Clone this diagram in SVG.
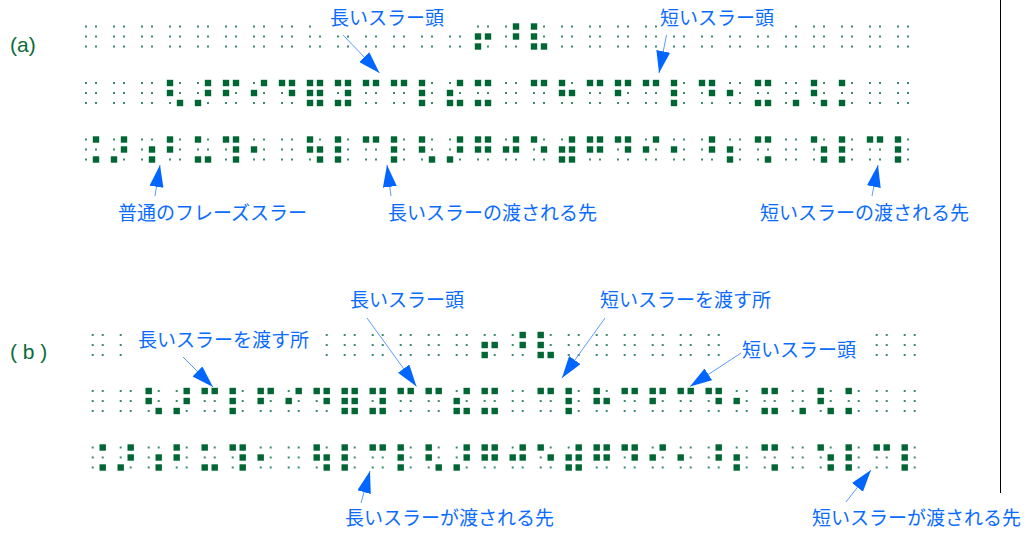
<svg xmlns="http://www.w3.org/2000/svg" width="1027" height="533" viewBox="0 0 1027 533">
<style>
.lbl{font-family:"Noto Sans CJK JP","Noto Sans CJK SC",sans-serif;font-size:19px;fill:#0a6cff}
.tag{font-family:"Liberation Sans",Arial,sans-serif;font-size:21px;fill:#0b6b3a}
.e{fill:#3a8d66}
.f{fill:#006633}
.ar{stroke:#5b9bff;stroke-width:1;fill:none;marker-end:url(#ah)}
.bg{fill:#ffffff}
</style>
<defs>
<marker id="ah" viewBox="0 0 22 14" refX="22" refY="7" markerWidth="22" markerHeight="14" markerUnits="userSpaceOnUse" orient="auto"><path d="M0,0 L22,7 L0,14 z" fill="#0066ff"/></marker>
<g id="c"><rect class="e" x="-1" y="-1" width="2" height="2"/><rect class="e" x="9" y="-1" width="2" height="2"/><rect class="e" x="-1" y="9" width="2" height="2"/><rect class="e" x="9" y="9" width="2" height="2"/><rect class="e" x="-1" y="19" width="2" height="2"/><rect class="e" x="9" y="19" width="2" height="2"/></g>
<g id="row"><use href="#c"/><use href="#c" x="28"/><use href="#c" x="56"/><use href="#c" x="84"/><use href="#c" x="112"/><use href="#c" x="140"/><use href="#c" x="168"/><use href="#c" x="196"/><use href="#c" x="224"/><use href="#c" x="252"/><use href="#c" x="280"/><use href="#c" x="308"/><use href="#c" x="336"/><use href="#c" x="364"/><use href="#c" x="392"/><use href="#c" x="420"/><use href="#c" x="448"/><use href="#c" x="476"/><use href="#c" x="504"/><use href="#c" x="532"/><use href="#c" x="560"/><use href="#c" x="588"/><use href="#c" x="616"/><use href="#c" x="644"/><use href="#c" x="672"/><use href="#c" x="700"/><use href="#c" x="728"/><use href="#c" x="756"/><use href="#c" x="784"/><use href="#c" x="812"/></g>
<rect id="d1" class="f" x="-3.2" y="-3.2" width="6.4" height="6.4"/>
<rect id="d2" class="f" x="-3.2" y="6.8" width="6.4" height="6.4"/>
<rect id="d3" class="f" x="-3.2" y="16.8" width="6.4" height="6.4"/>
<rect id="d4" class="f" x="6.8" y="-3.2" width="6.4" height="6.4"/>
<rect id="d5" class="f" x="6.8" y="6.8" width="6.4" height="6.4"/>
<rect id="d6" class="f" x="6.8" y="16.8" width="6.4" height="6.4"/>
<g id="R1">
<use href="#d2" x="392"/><use href="#d3" x="392"/><use href="#d5" x="392"/>
<use href="#d4" x="420"/><use href="#d5" x="420"/>
<use href="#d1" x="448"/><use href="#d2" x="448"/><use href="#d3" x="448"/><use href="#d6" x="448"/>
</g>
<g id="R3">
<use href="#d4"/><use href="#d6"/>
<use href="#d3" x="28"/><use href="#d4" x="28"/><use href="#d5" x="28"/>
<use href="#d5" x="56"/><use href="#d6" x="56"/>
<use href="#d1" x="84"/><use href="#d2" x="84"/>
<use href="#d1" x="112"/><use href="#d3" x="112"/><use href="#d6" x="112"/>
<use href="#d1" x="140"/><use href="#d4" x="140"/><use href="#d5" x="140"/><use href="#d6" x="140"/>
<use href="#d2" x="168"/>
<use href="#d1" x="224"/><use href="#d2" x="224"/><use href="#d5" x="224"/><use href="#d6" x="224"/>
<use href="#d1" x="252"/><use href="#d2" x="252"/><use href="#d3" x="252"/>
<use href="#d1" x="280"/><use href="#d4" x="280"/>
<use href="#d1" x="308"/><use href="#d2" x="308"/><use href="#d3" x="308"/>
<use href="#d1" x="336"/><use href="#d2" x="336"/><use href="#d6" x="336"/>
<use href="#d3" x="364"/><use href="#d4" x="364"/><use href="#d5" x="364"/>
<use href="#d1" x="392"/><use href="#d2" x="392"/><use href="#d4" x="392"/><use href="#d5" x="392"/>
<use href="#d2" x="420"/><use href="#d4" x="420"/><use href="#d5" x="420"/>
<use href="#d1" x="448"/><use href="#d5" x="448"/>
<use href="#d2" x="476"/><use href="#d3" x="476"/><use href="#d4" x="476"/><use href="#d5" x="476"/><use href="#d6" x="476"/>
<use href="#d1" x="504"/><use href="#d2" x="504"/><use href="#d4" x="504"/><use href="#d5" x="504"/>
<use href="#d1" x="532"/><use href="#d4" x="532"/><use href="#d5" x="532"/>
<use href="#d2" x="560"/><use href="#d4" x="560"/>
<use href="#d2" x="588"/>
<use href="#d4" x="616"/><use href="#d5" x="616"/>
<use href="#d2" x="644"/><use href="#d3" x="644"/>
<use href="#d1" x="672"/><use href="#d4" x="672"/><use href="#d6" x="672"/>
<use href="#d1" x="728"/><use href="#d5" x="728"/><use href="#d6" x="728"/>
<use href="#d1" x="756"/><use href="#d2" x="756"/><use href="#d3" x="756"/>
<use href="#d1" x="784"/><use href="#d4" x="784"/>
<use href="#d1" x="812"/><use href="#d2" x="812"/><use href="#d3" x="812"/>
</g>
</defs>

<g id="braille-a1"><use href="#row" x="86" y="26.5"/><use href="#R1" x="86" y="26.5"/></g>
<g id="braille-a2"><use href="#row" x="86" y="83"/>
<g transform="translate(86,83)">
<use href="#d1" x="84"/><use href="#d2" x="84"/><use href="#d6" x="84"/>
<use href="#d3" x="112"/><use href="#d4" x="112"/><use href="#d5" x="112"/>
<use href="#d1" x="140"/><use href="#d2" x="140"/><use href="#d4" x="140"/>
<use href="#d2" x="168"/><use href="#d4" x="168"/>
<use href="#d1" x="196"/><use href="#d4" x="196"/><use href="#d5" x="196"/>
<use href="#d1" x="224"/><use href="#d2" x="224"/><use href="#d3" x="224"/><use href="#d4" x="224"/><use href="#d5" x="224"/><use href="#d6" x="224"/>
<use href="#d1" x="252"/><use href="#d3" x="252"/><use href="#d4" x="252"/><use href="#d5" x="252"/><use href="#d6" x="252"/>
<use href="#d1" x="280"/><use href="#d4" x="280"/>
<use href="#d1" x="308"/><use href="#d4" x="308"/>
<use href="#d1" x="336"/><use href="#d2" x="336"/><use href="#d3" x="336"/>
<use href="#d2" x="364"/><use href="#d3" x="364"/><use href="#d4" x="364"/><use href="#d6" x="364"/>
<use href="#d1" x="392"/><use href="#d3" x="392"/><use href="#d4" x="392"/><use href="#d6" x="392"/>
<use href="#d1" x="448"/><use href="#d4" x="448"/>
<use href="#d1" x="476"/><use href="#d2" x="476"/><use href="#d5" x="476"/>
<use href="#d1" x="504"/><use href="#d4" x="504"/>
<use href="#d1" x="532"/><use href="#d2" x="532"/><use href="#d4" x="532"/>
<use href="#d1" x="560"/><use href="#d4" x="560"/>
<use href="#d1" x="588"/><use href="#d2" x="588"/><use href="#d3" x="588"/>
<use href="#d1" x="616"/><use href="#d4" x="616"/><use href="#d5" x="616"/>
<use href="#d2" x="644"/>
<use href="#d1" x="672"/><use href="#d3" x="672"/><use href="#d4" x="672"/><use href="#d6" x="672"/>
<use href="#d6" x="700"/>
<use href="#d1" x="728"/><use href="#d2" x="728"/><use href="#d6" x="728"/>
<use href="#d1" x="756"/><use href="#d3" x="756"/>
</g></g>
<g id="braille-a3"><use href="#row" x="86" y="139.5"/><use href="#R3" x="86" y="139.5"/></g>

<g id="braille-b1"><use href="#row" x="92.7" y="335"/><use href="#R1" x="92.7" y="335"/></g>
<g id="braille-b2"><use href="#row" x="92.7" y="391"/>
<g transform="translate(92.7,391)">
<use href="#d1" x="56"/><use href="#d2" x="56"/><use href="#d6" x="56"/>
<use href="#d3" x="84"/><use href="#d4" x="84"/><use href="#d5" x="84"/>
<use href="#d1" x="112"/><use href="#d4" x="112"/>
<use href="#d1" x="140"/><use href="#d2" x="140"/><use href="#d3" x="140"/>
<use href="#d1" x="168"/><use href="#d2" x="168"/><use href="#d4" x="168"/>
<use href="#d2" x="196"/><use href="#d4" x="196"/>
<use href="#d1" x="224"/><use href="#d4" x="224"/><use href="#d5" x="224"/>
<use href="#d1" x="252"/><use href="#d2" x="252"/><use href="#d3" x="252"/><use href="#d4" x="252"/><use href="#d5" x="252"/><use href="#d6" x="252"/>
<use href="#d1" x="280"/><use href="#d3" x="280"/><use href="#d4" x="280"/><use href="#d5" x="280"/><use href="#d6" x="280"/>
<use href="#d1" x="308"/><use href="#d4" x="308"/>
<use href="#d1" x="336"/><use href="#d4" x="336"/>
<use href="#d2" x="364"/><use href="#d3" x="364"/><use href="#d4" x="364"/><use href="#d6" x="364"/>
<use href="#d1" x="392"/><use href="#d3" x="392"/><use href="#d4" x="392"/><use href="#d6" x="392"/>
<use href="#d1" x="448"/><use href="#d4" x="448"/>
<use href="#d1" x="476"/><use href="#d2" x="476"/><use href="#d3" x="476"/>
<use href="#d1" x="504"/><use href="#d2" x="504"/><use href="#d5" x="504"/>
<use href="#d1" x="532"/><use href="#d4" x="532"/>
<use href="#d1" x="560"/><use href="#d2" x="560"/><use href="#d4" x="560"/>
<use href="#d1" x="588"/><use href="#d4" x="588"/>
<use href="#d1" x="616"/><use href="#d4" x="616"/><use href="#d5" x="616"/>
<use href="#d2" x="644"/>
<use href="#d1" x="672"/><use href="#d3" x="672"/><use href="#d4" x="672"/><use href="#d6" x="672"/>
<use href="#d6" x="700"/>
<use href="#d1" x="728"/><use href="#d2" x="728"/><use href="#d6" x="728"/>
<use href="#d1" x="756"/><use href="#d3" x="756"/>
</g></g>
<g id="braille-b3"><use href="#row" x="92.7" y="447.5"/><use href="#R3" x="92.7" y="447.5"/></g>

<g id="label-backgrounds">
<rect class="bg" x="315" y="6" width="153" height="25"/>
<rect class="bg" x="659" y="6" width="131" height="25"/>
<rect class="bg" x="125" y="328" width="197" height="32"/>
<rect class="bg" x="725" y="328" width="143" height="32"/>
</g>

<line id="frame-right" x1="1000.5" y1="0" x2="1000.5" y2="493" stroke="#000" stroke-width="1"/>

<g id="connectors">
<line class="ar" x1="343" y1="35" x2="379.5" y2="73"/>
<line class="ar" x1="666.5" y1="35" x2="659" y2="73"/>
<line class="ar" x1="155" y1="196" x2="160" y2="165"/>
<line class="ar" x1="391" y1="196" x2="387" y2="165"/>
<line class="ar" x1="872" y1="196" x2="878" y2="165"/>
<line class="ar" x1="183" y1="357" x2="213" y2="387"/>
<line class="ar" x1="367" y1="318" x2="416.5" y2="386.5"/>
<line class="ar" x1="605" y1="318" x2="562" y2="378"/>
<line class="ar" x1="741" y1="353" x2="690" y2="386.5"/>
<line class="ar" x1="361" y1="503" x2="370" y2="471"/>
<line class="ar" x1="846" y1="502" x2="871" y2="470"/>
</g>

<g id="tag-a"><text class="tag" x="10" y="52">(a)</text></g>
<g id="tag-b"><text class="tag" x="10" y="359">( b )</text></g>

<g id="label-a-long-head"><text class="lbl" x="330" y="25">長いスラー頭</text></g>
<g id="label-a-short-head"><text class="lbl" x="660" y="25">短いスラー頭</text></g>
<g id="label-a-phrase"><text class="lbl" x="118" y="220">普通のフレーズスラー</text></g>
<g id="label-a-long-dest"><text class="lbl" x="388" y="220">長いスラーの渡される先</text></g>
<g id="label-a-short-dest"><text class="lbl" x="760" y="220">短いスラーの渡される先</text></g>
<g id="label-b-long-pass"><text class="lbl" x="138" y="347">長いスラーを渡す所</text></g>
<g id="label-b-long-head"><text class="lbl" x="350" y="307">長いスラー頭</text></g>
<g id="label-b-short-pass"><text class="lbl" x="600" y="307">短いスラーを渡す所</text></g>
<g id="label-b-short-head"><text class="lbl" x="742" y="357">短いスラー頭</text></g>
<g id="label-b-long-dest"><text class="lbl" x="345" y="525">長いスラーが渡される先</text></g>
<g id="label-b-short-dest"><text class="lbl" x="812" y="525">短いスラーが渡される先</text></g>
</svg>
